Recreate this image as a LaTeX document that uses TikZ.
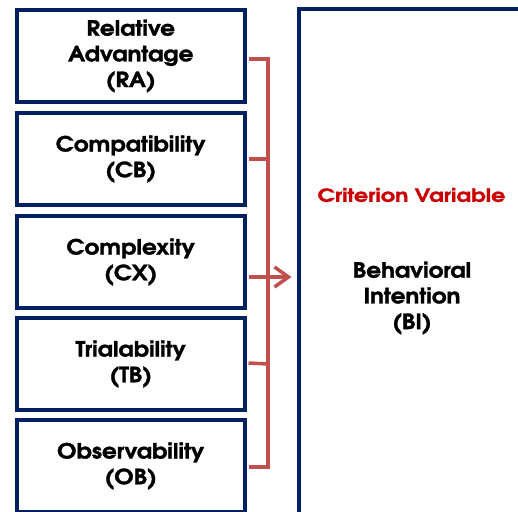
\documentclass[tikz,border=0pt]{standalone}
\usepackage{fontspec}
\setmainfont{texgyreadventor}[Extension=.otf,UprightFont=*-regular,BoldFont=*-bold,BoldFeatures={FakeStretch=1.1,FakeBold=1.4}]
\newfontfamily\critfont{texgyreadventor}[Extension=.otf,UprightFont=*-bold,FakeStretch=1.24,FakeBold=1.4]
\usetikzlibrary{arrows.meta,calc}
\definecolor{navy}{HTML}{002060}
\definecolor{brred}{HTML}{C0504D}
\definecolor{critred}{HTML}{CC0000}
\tikzset{
  fbox/.style={draw=navy,line width=4pt,minimum width=227.5pt,minimum height=92pt,inner sep=0pt,align=center,font=\bfseries\fontsize{21}{25.7}\selectfont},
  br/.style={draw=brred,line width=3.5pt,line join=miter},
  arr/.style={br,-{Straight Barb[length=14pt,width=20pt,line width=3.5pt]}},
  lbl/.style={align=center,inner sep=0pt}
}
\begin{document}
\begin{tikzpicture}[x=1pt,y=-1pt]
\useasboundingbox (0,0) rectangle (518,511);
\node[fbox] (b1) at (130.75,56) {Relative\\Advantage\\(RA)};
\node[fbox] (b2) at (130.75,159) {Compatibility\\(CB)};
\node[fbox] (b3) at (130.75,262) {Complexity\\(CX)};
\node[fbox] (b4) at (130.75,364) {Trialability\\(TB)};
\node[fbox] (b5) at (130.75,466) {Observability\\(OB)};
\node[draw=navy,line width=4pt,minimum width=242pt,minimum height=535pt,inner sep=0pt] (rb) at (419.5,277) {};
\node[lbl,text=critred,font=\critfont\fontsize{18}{20}\selectfont] (crit) at (411.5,195) {Criterion Variable};
\node[lbl,font=\bfseries\fontsize{21}{25.7}\selectfont] (bi) at (412,298) {Behavioral\\Intention\\(BI)};
\coordinate (vb) at (268,467);
\draw[br] ([shift={(2,3)}]b1.east) -| (vb) -- ([shift={(2,1)}]b5.east);
\draw[br] ([shift={(2,0)}]b2.east) -- (b2.east -| vb);
\draw[br] ([shift={(2,-1)}]b4.east) -- (b4.east -| vb);
\draw[arr] ([shift={(2,15)}]b3.east) -- ([xshift=-5]rb.west);
\end{tikzpicture}
\end{document}
